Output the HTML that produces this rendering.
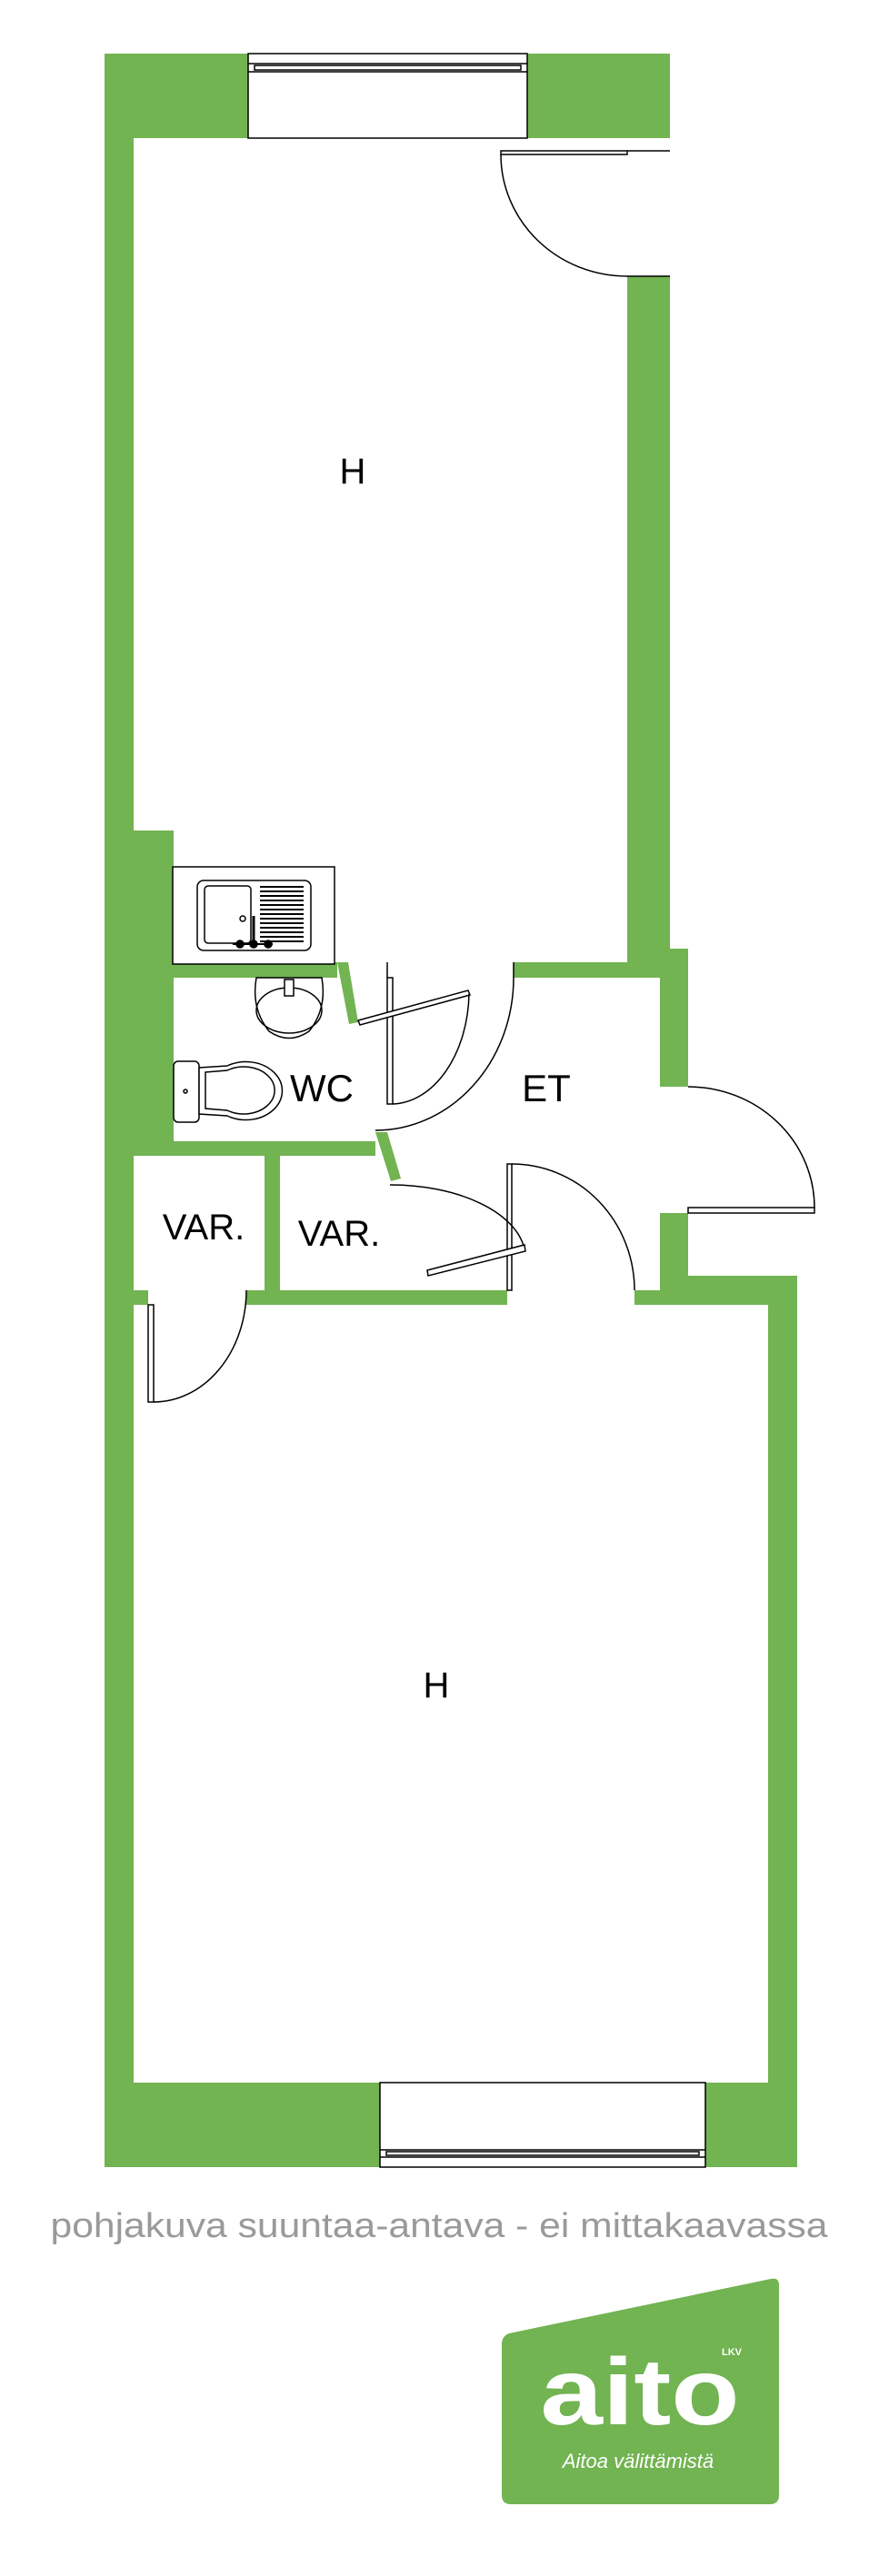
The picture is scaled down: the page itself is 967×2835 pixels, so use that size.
<!DOCTYPE html>
<html><head><meta charset="utf-8"><style>
html,body{margin:0;padding:0;background:#fff;}
svg{display:block;}
text{font-family:"Liberation Sans",sans-serif;}
</style></head><body>
<svg width="967" height="2835" viewBox="0 0 967 2835" xmlns="http://www.w3.org/2000/svg">
<g fill="#72b352">
<rect x="115" y="59" width="622" height="93"/>
<rect x="115" y="59" width="32" height="2326"/>
<rect x="147" y="914" width="44" height="358"/>
<rect x="690" y="304" width="47" height="770"/>
<rect x="690" y="1044" width="67" height="32"/>
<rect x="726" y="1044" width="31" height="152"/>
<rect x="726" y="1335" width="31" height="101"/>
<rect x="726" y="1404" width="151" height="32"/>
<rect x="698" y="1420" width="179" height="16"/>
<rect x="845" y="1404" width="32" height="981"/>
<rect x="191" y="1059" width="180" height="17"/>
<polygon points="371,1059 383,1059 394,1125 384,1127"/>
<rect x="565" y="1059" width="125" height="17"/>
<rect x="147" y="1256" width="266" height="16"/>
<polygon points="413,1246 426,1246 441,1297 430,1300"/>
<rect x="291" y="1272" width="17" height="148"/>
<rect x="147" y="1420" width="16" height="16"/>
<rect x="271" y="1420" width="287" height="16"/>
<rect x="115" y="2292" width="762" height="93"/>
</g>
<g fill="#fff" stroke="#000" stroke-width="1.5">
<rect x="273" y="59" width="307" height="93"/>
<rect x="418" y="2292" width="358" height="93"/>
</g>
<g stroke="#000" stroke-width="1.5" fill="none">
<line x1="273" y1="70" x2="580" y2="70"/><line x1="273" y1="79" x2="580" y2="79"/>
<rect x="280" y="72" width="293" height="5"/>
<line x1="418" y1="2366" x2="776" y2="2366"/><line x1="418" y1="2374" x2="776" y2="2374"/>
<rect x="425" y="2368" width="344" height="4"/>
<rect x="551" y="166" width="139" height="4" fill="#fff"/>
<line x1="690" y1="166" x2="737" y2="166"/><line x1="690" y1="304" x2="737" y2="304"/>
<path d="M551,170 A139,134 0 0 0 690,304"/>
<line x1="565" y1="1059" x2="565" y2="1076"/>
<path d="M565,1076 A152,168 0 0 1 413,1244"/>
<rect x="426" y="1076" width="6" height="139" fill="#fff"/>
<line x1="426" y1="1059" x2="426" y2="1076"/>
<polygon points="394,1123 515,1090 517,1095 396,1128" fill="#fff"/>
<path d="M432,1215 A86,125 0 0 0 516,1094"/>
<rect x="757" y="1329" width="139" height="6" fill="#fff"/>
<path d="M757,1196 A139,133 0 0 1 896,1329"/>
<rect x="558" y="1281" width="5" height="139" fill="#fff"/>
<path d="M563,1281 A135,139 0 0 1 698,1420"/>
<path d="M429,1304 A148,80 0 0 1 577,1375"/>
<polygon points="470,1398 577,1370 578,1377 471,1404" fill="#fff"/>
<rect x="163" y="1436" width="6" height="107" fill="#fff"/>
<path d="M169,1543 A102,123 0 0 0 271,1420"/>
<rect x="190" y="954" width="178" height="107" fill="#fff"/>
<rect x="217" y="969" width="125" height="77" rx="7"/>
<rect x="225" y="975" width="51" height="63" rx="4"/>
<circle cx="267" cy="1011" r="3"/>
<line x1="279" y1="1008" x2="279" y2="1040" stroke-width="3"/>
<g stroke-width="2">
<line x1="286" y1="976" x2="334" y2="976"/><line x1="286" y1="981" x2="334" y2="981"/>
<line x1="286" y1="986" x2="334" y2="986"/><line x1="286" y1="991" x2="334" y2="991"/>
<line x1="286" y1="996" x2="334" y2="996"/><line x1="286" y1="1001" x2="334" y2="1001"/>
<line x1="286" y1="1006" x2="334" y2="1006"/><line x1="286" y1="1011" x2="334" y2="1011"/>
<line x1="286" y1="1016" x2="334" y2="1016"/><line x1="286" y1="1021" x2="334" y2="1021"/>
<line x1="286" y1="1026" x2="334" y2="1026"/><line x1="286" y1="1031" x2="334" y2="1031"/>
<line x1="286" y1="1036" x2="334" y2="1036"/>
<line x1="256" y1="1039" x2="300" y2="1039"/>
</g>
<circle cx="264" cy="1039" r="4" fill="#000"/><circle cx="279" cy="1039" r="4" fill="#000"/><circle cx="295" cy="1039" r="4" fill="#000"/>
<path d="M282,1076 L354,1076 Q360,1110 340,1135 Q318,1150 296,1135 Q276,1110 282,1076 Z" fill="#fff"/>
<ellipse cx="318" cy="1112" rx="36" ry="25"/>
<rect x="313" y="1078" width="10" height="18" fill="#fff"/>
<rect x="191" y="1168" width="28" height="67" rx="5" fill="#fff"/>
<path d="M219,1175 L250,1173 A40,32 0 1 1 250,1228 L219,1226 Z" fill="#fff"/>
<path d="M226,1180 L250,1178 A34,26 0 1 1 250,1222 L226,1220 Z"/>
<circle cx="204" cy="1201" r="2"/>
</g>
<g font-size="40" fill="#000" text-anchor="middle">
<text x="388" y="532">H</text>
<text x="354" y="1212" font-size="42">WC</text>
<text x="601" y="1212" font-size="42">ET</text>
<text x="224" y="1364" font-size="40">VAR.</text>
<text x="373" y="1371" font-size="40">VAR.</text>
<text x="480" y="1868">H</text>
</g>
<text x="483" y="2462" font-size="38" fill="#9a9a9a" text-anchor="middle" textLength="855" lengthAdjust="spacingAndGlyphs">pohjakuva suuntaa-antava - ei mittakaavassa</text>
<path d="M560,2568 L848,2508 Q857,2506 857,2515 L857,2746 Q857,2756 847,2756 L562,2756 Q552,2756 552,2746 L552,2580 Q552,2571 560,2568 Z" fill="#72b352"/>
<text x="805" y="2592" font-size="11" font-weight="bold" fill="#fff" text-anchor="middle">LKV</text>
<text x="704" y="2668" font-size="104" font-weight="bold" fill="#fff" text-anchor="middle" textLength="219" lengthAdjust="spacingAndGlyphs">aito</text>
<text x="702" y="2716" font-size="22" font-style="italic" fill="#fff" text-anchor="middle" font-family="Liberation Serif, serif">Aitoa välittämistä</text>
</svg>
</body></html>
